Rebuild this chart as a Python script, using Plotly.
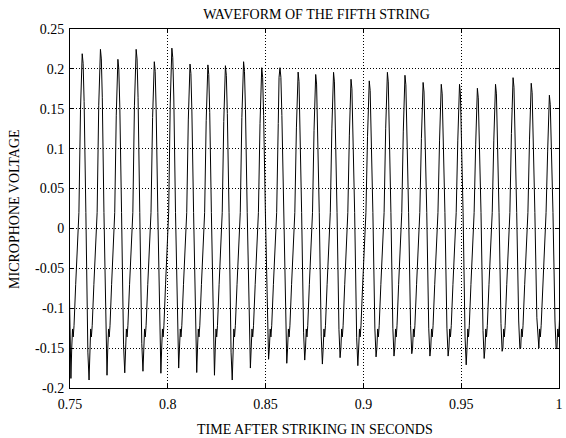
import plotly.graph_objects as go

# Peak times (s) and values (first one lies just before the axis start)
peak_times = [0.74700, 0.75624, 0.76557, 0.77449, 0.78382, 0.79310, 0.80208, 0.81136,
              0.82049, 0.82946, 0.83874, 0.84802, 0.85735, 0.86663, 0.87561, 0.88474,
              0.89366, 0.90299, 0.91227, 0.92125, 0.93053, 0.93981, 0.94914, 0.95827,
              0.96755, 0.97652, 0.98580, 0.99508, 1.00430]
peak_values = [0.220, 0.219, 0.2245, 0.212, 0.2245, 0.209, 0.226, 0.206,
               0.205, 0.204, 0.209, 0.2015, 0.2015, 0.196, 0.193, 0.1957,
               0.187, 0.185, 0.1957, 0.192, 0.183, 0.1807, 0.1807, 0.1757,
               0.1807, 0.189, 0.182, 0.167, 0.170]
# Trough following each peak
trough_values = [-0.188, -0.190, -0.184, -0.181, -0.179, -0.1815, -0.175, -0.1806,
                 -0.184, -0.190, -0.175, -0.164, -0.169, -0.165, -0.170, -0.162,
                 -0.172, -0.161, -0.160, -0.157, -0.160, -0.160, -0.171, -0.163,
                 -0.154, -0.151, -0.147, -0.151]

# One cycle's shape: (fraction of period after a peak, kind, level)
# kind: 'p' = relative to this peak, 't' = relative to trough, 'a' = absolute, 'n' = relative to next peak
cycle_shape = [(0.050, 'p', -0.012), (0.105, 'p', -0.060), (0.200, 'a', 0.020),
               (0.310, 't', 0.035), (0.375, 't', 0.000), (0.420, 'a', -0.150),
               (0.464, 'a', -0.126), (0.503, 'a', -0.136), (0.547, 'a', -0.122),
               (0.640, 'a', -0.070), (0.735, 'a', -0.025), (0.773, 'a', -0.012),
               (0.818, 'a', 0.020), (0.906, 'n', -0.070), (0.950, 'n', -0.012)]

xs, ys = [], []
for k in range(len(trough_values)):
    t0, t1 = peak_times[k], peak_times[k + 1]
    p0, p1, tr = peak_values[k], peak_values[k + 1], trough_values[k]
    xs.append(t0); ys.append(p0)
    for frac, kind, lev in cycle_shape:
        base = {'p': p0, 't': tr, 'a': 0.0, 'n': p1}[kind]
        xs.append(t0 + frac * (t1 - t0)); ys.append(base + lev)
xs.append(peak_times[-1]); ys.append(peak_values[-1])

x_ticks = [0.75, 0.8, 0.85, 0.9, 0.95, 1.0]
x_labels = ["0.75", "0.8", "0.85", "0.9", "0.95", "1"]
y_ticks = [-0.2, -0.15, -0.1, -0.05, 0, 0.05, 0.1, 0.15, 0.2, 0.25]
y_labels = ["-0.2", "-0.15", "-0.1", "-0.05", "0", "0.05", "0.1", "0.15", "0.2", "0.25"]

fig = go.Figure(go.Scatter(x=xs, y=ys, mode="lines",
                           line=dict(color="black", width=1), hoverinfo="skip"))

font = dict(family="Liberation Serif, Times New Roman, serif", size=14, color="black")
axis_common = dict(showline=True, linecolor="black", linewidth=1, mirror="ticks",
                   ticks="inside", ticklen=4, tickcolor="black", showgrid=True,
                   gridcolor="black", griddash="1px,2px", gridwidth=1, zeroline=False,
                   tickfont=font, ticklabeloverflow="allow")
fig.update_xaxes(range=[0.75, 1.0], tickvals=x_ticks, ticktext=x_labels,
                 ticklabelstandoff=3, **axis_common)
fig.update_yaxes(range=[-0.2, 0.25], tickvals=y_ticks, ticktext=y_labels,
                 ticklabelstandoff=2, **axis_common)

# plot area: x 70..563 px, y 29..388 px
fig.add_annotation(text="TIME AFTER STRIKING IN SECONDS", xref="paper", yref="paper",
                   x=0.5, y=(388 - 429) / 359, xanchor="center", yanchor="middle",
                   showarrow=False, font=font)
fig.add_annotation(text="MICROPHONE VOLTAGE", xref="paper", yref="paper",
                   x=(14 - 70) / 493, y=0.5, xanchor="center", yanchor="middle",
                   textangle=-90, showarrow=False, font=font)

fig.update_layout(width=566, height=438, margin=dict(l=70, r=3, t=29, b=50),
                  paper_bgcolor="white", plot_bgcolor="white", showlegend=False,
                  title=dict(text="WAVEFORM OF THE FIFTH STRING", font=font,
                             x=(316.5 / 566), xanchor="center",
                             y=1 - 14 / 438, yanchor="middle"),
                  font=font)
fig.write_html("out.html", config={"displayModeBar": False},
               post_script="document.body.style.margin='0';document.body.style.padding='0';")
